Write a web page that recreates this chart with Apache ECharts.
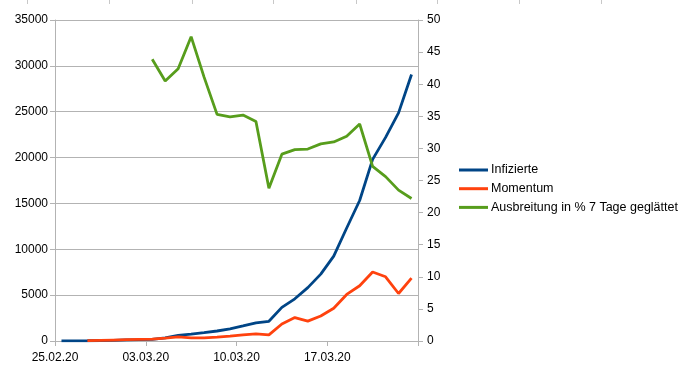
<!DOCTYPE html>
<html>
<head>
<meta charset="utf-8">
<script src="https://cdn.jsdelivr.net/npm/echarts@6/dist/echarts.min.js"></script>
<style>
  html, body { margin: 0; padding: 0; background: #ffffff; }
  #chart { width: 681px; height: 367px; }
</style>
</head>
<body>
<div id="chart"></div>
<script>
// ---- data ----
var categories = ['25.02.20','26.02.20','27.02.20','28.02.20','29.02.20','01.03.20','02.03.20','03.03.20',
  '04.03.20','05.03.20','06.03.20','07.03.20','08.03.20','09.03.20','10.03.20','11.03.20','12.03.20',
  '13.03.20','14.03.20','15.03.20','16.03.20','17.03.20','18.03.20','19.03.20','20.03.20','21.03.20',
  '22.03.20','23.03.20'];
var xTickLabels = ['25.02.20', '03.03.20', '10.03.20', '17.03.20', ''];
var infizierte = [16, 18, 26, 53, 66, 117, 150, 188, 330, 620, 760, 910, 1090, 1330, 1650, 1980, 2150,
  3670, 4600, 5820, 7290, 9260, 12320, 15320, 19800, 22200, 24870, 29060];
var momentum = [null, null, 0.05, 0.1, 0.15, 0.2, 0.25, 0.3, 0.45, 0.65, 0.5, 0.5, 0.6, 0.75, 0.95, 1.1,
  0.95, 2.65, 3.65, 3.1, 3.9, 5.1, 7.25, 8.6, 10.75, 10.0, 7.4, 9.8];
var ausbreitung = [null, null, null, null, null, null, null, 43.9, 40.5, 42.4, 47.4, 41.1, 35.3, 34.9,
  35.2, 34.2, 23.8, 29.1, 29.8, 29.9, 30.7, 31.0, 31.9, 33.8, 27.2, 25.6, 23.5, 22.2];
var seriesNames = ['Infizierte', 'Momentum', 'Ausbreitung in % 7 Tage geglättet'];
var colors = ['#004586', '#ff420e', '#579d1c'];

var FONT = 'Liberation Sans, Arial, sans-serif';
var gridLeft = 55, gridRight = 418;

// faint spreadsheet column marks at the very top
var topMarks = [27, 109, 192, 273, 356, 437, 519, 601];
var graphics = topMarks.map(function (x) {
  return { type: 'line', shape: { x1: x + 0.5, y1: 0, x2: x + 0.5, y2: 4 },
           style: { stroke: '#c8c8c8', lineWidth: 1 } };
});

var chart = echarts.init(document.getElementById('chart'), null, { renderer: 'canvas' });
chart.setOption({
  animation: false,
  color: colors,
  textStyle: { fontFamily: FONT },
  grid: { left: gridLeft, right: 681 - gridRight, top: 20, bottom: 26, containLabel: false },
  legend: {
    orient: 'vertical',
    left: 459,
    top: 163,
    padding: 0,
    itemWidth: 29,
    itemHeight: 3,
    itemGap: 4.7,
    icon: 'rect',
    textStyle: { fontFamily: FONT, fontSize: 12.5, color: '#000', lineHeight: 14, padding: [0, 0, 0, -2] },
    data: seriesNames
  },
  xAxis: [
    {
      type: 'category',
      data: categories,
      boundaryGap: true,
      axisLine: { show: true, lineStyle: { color: '#b3b3b3', width: 1 } },
      axisTick: { show: true, interval: 6, length: 5, lineStyle: { color: '#b3b3b3' } },
      axisLabel: { show: false },
      splitLine: { show: false }
    },
    {
      type: 'value',
      position: 'bottom',
      min: 0,
      max: 28,
      interval: 7,
      axisLine: { show: false },
      axisTick: { show: false },
      splitLine: { show: false },
      axisLabel: {
        margin: 11,
        fontFamily: FONT,
        fontSize: 12,
        color: '#000',
        formatter: function (v) { return xTickLabels[Math.round(v / 7)] || ''; }
      }
    }
  ],
  yAxis: [
    {
      type: 'value',
      min: 0, max: 35000, interval: 5000,
      axisLine: { show: true, lineStyle: { color: '#b3b3b3' } },
      axisTick: { show: true, length: 5, lineStyle: { color: '#b3b3b3' } },
      axisLabel: { margin: 7, fontFamily: FONT, fontSize: 12, color: '#000',
                   formatter: function (v) { return String(v); } },
      splitLine: { show: true, lineStyle: { color: '#b3b3b3', width: 1 } }
    },
    {
      type: 'value',
      min: 0, max: 50, interval: 5,
      position: 'right',
      axisLine: { show: true, lineStyle: { color: '#b3b3b3' } },
      axisTick: { show: true, length: 5, lineStyle: { color: '#b3b3b3' } },
      axisLabel: { margin: 9, fontFamily: FONT, fontSize: 12, color: '#000',
                   formatter: function (v) { return String(v); } },
      splitLine: { show: false }
    }
  ],
  series: [
    {
      name: seriesNames[0], type: 'line', xAxisIndex: 0, yAxisIndex: 0,
      data: infizierte, showSymbol: false, symbol: 'none',
      lineStyle: { width: 2.8, color: colors[0] }
    },
    {
      name: seriesNames[1], type: 'line', xAxisIndex: 0, yAxisIndex: 1,
      data: momentum, showSymbol: false, symbol: 'none',
      lineStyle: { width: 2.8, color: colors[1] }
    },
    {
      name: seriesNames[2], type: 'line', xAxisIndex: 0, yAxisIndex: 1,
      data: ausbreitung, showSymbol: false, symbol: 'none',
      lineStyle: { width: 2.8, color: colors[2] }
    }
  ],
  graphic: graphics
});
</script>
</body>
</html>
